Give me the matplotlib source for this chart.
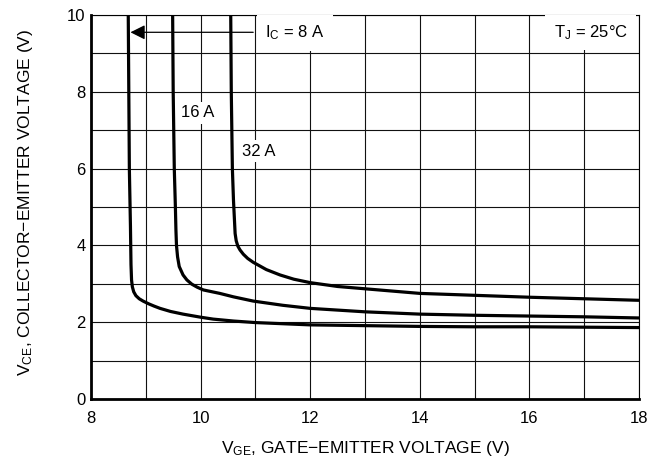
import numpy as np
import matplotlib
matplotlib.use("Agg")
import matplotlib.pyplot as plt

plt.rcParams['font.family'] = ['Liberation Sans', 'DejaVu Sans']
plt.rcParams['mathtext.fontset'] = 'custom'
plt.rcParams['mathtext.rm'] = 'Liberation Sans'
plt.rcParams['mathtext.it'] = 'Liberation Sans'

# collector-emitter voltage vs gate-emitter voltage, Tj = 25 C
vge_8a = [8.68, 8.69, 8.70, 8.72, 8.73, 8.74, 8.755, 8.78, 8.82, 8.88, 8.95, 9.05,
          9.15, 9.26, 9.45, 9.68, 10.0, 10.23, 10.6, 11.0, 12.0, 13.0, 14.0, 15.0,
          16.0, 17.0, 18.0]
vce_8a = [10.0, 8.0, 6.0, 4.5, 3.5, 3.1, 2.92, 2.79, 2.69, 2.61, 2.55, 2.48,
          2.42, 2.36, 2.28, 2.21, 2.13, 2.08, 2.03, 1.99, 1.93, 1.91, 1.89, 1.88,
          1.88, 1.87, 1.86]

vge_16a = [9.49, 9.50, 9.52, 9.54, 9.55, 9.56, 9.58, 9.61, 9.68, 9.75, 9.84, 9.94,
           10.05, 10.35, 10.6, 10.96, 11.5, 12.0, 13.0, 14.0, 15.0, 16.0, 17.0, 18.0]
vce_16a = [10.0, 8.0, 6.0, 5.0, 4.4, 4.0, 3.7, 3.45, 3.23, 3.1, 2.99, 2.91,
           2.84, 2.75, 2.66, 2.55, 2.44, 2.36, 2.27, 2.21, 2.18, 2.16, 2.14, 2.11]

vge_32a = [10.55, 10.56, 10.58, 10.60, 10.63, 10.65, 10.68, 10.72, 10.78, 10.86,
           10.96, 11.2, 11.45, 11.7, 12.0, 12.5, 13.0, 14.0, 15.0, 16.0, 17.0, 18.0]
vce_32a = [10.0, 8.0, 6.0, 5.18, 4.31, 4.12, 3.98, 3.88, 3.77, 3.66,
           3.56, 3.37, 3.23, 3.12, 3.03, 2.93, 2.87, 2.75, 2.70, 2.65, 2.61, 2.57]

xticks = [8, 10, 12, 14, 16, 18]
yticks = [0, 2, 4, 6, 8, 10]

fig = plt.figure(figsize=(6.49, 4.62), dpi=100)
ax = fig.add_axes([0.1402, 0.1364, 0.8444, 0.8311])

for x, y in [(vge_8a, vce_8a), (vge_16a, vce_16a), (vge_32a, vce_32a)]:
    ax.plot(x, y, color='black', lw=2.3, solid_capstyle='butt',
            solid_joinstyle='round', zorder=3)

ax.set_xlim(8, 18)
ax.set_ylim(0, 10)
ax.set_xticks(xticks)
ax.set_yticks(yticks)
ax.set_xticks(np.arange(8, 19, 1), minor=True)
ax.set_yticks(np.arange(0, 11, 1), minor=True)
ax.grid(which='both', color='#111111', lw=0.8)
ax.set_axisbelow(True)
ax.tick_params(which='both', length=0, labelsize=12, pad=4)
ax.tick_params(axis='x', pad=8.5)

for side in ['left', 'bottom']:
    ax.spines[side].set_linewidth(2.0)
for side in ['top', 'right']:
    ax.spines[side].set_linewidth(0.8)

box = dict(facecolor='white', edgecolor='none', pad=2.5)
ax.annotate('', xy=(8.72, 9.55), xytext=(10.96, 9.55),
            arrowprops=dict(arrowstyle='-|>', color='black', lw=0.9,
                            mutation_scale=22, shrinkA=0, shrinkB=0), zorder=4)
ax.text(11.18, 9.53, r'I$_{\mathregular{C}}$ = 8 A', fontsize=12, va='center',
        ha='left', bbox=dict(facecolor='white', edgecolor='none', pad=6), zorder=5)
ax.text(9.95, 7.45, '16 A', fontsize=12, ha='center', va='center', bbox=box, zorder=5)
ax.text(11.07, 6.45, '32 A', fontsize=12, ha='center', va='center', bbox=box, zorder=5)
ax.text(17.12, 9.54, r'T$_{\mathregular{J}}$ = 25°C', fontsize=12, ha='center',
        va='center', bbox=dict(facecolor='white', edgecolor='none', pad=6), zorder=5)

ax.set_xlabel(r'V$_{\mathregular{GE}}$, GATE$-$EMITTER VOLTAGE (V)', fontsize=12.5)
ax.set_ylabel(r'V$_{\mathregular{CE}}$, COLLECTOR$-$EMITTER VOLTAGE (V)', fontsize=12.5)
ax.xaxis.set_label_coords(0.5, -0.105)
ax.yaxis.set_label_coords(-0.102, 0.513)

fig.savefig('out.png', dpi=100)
